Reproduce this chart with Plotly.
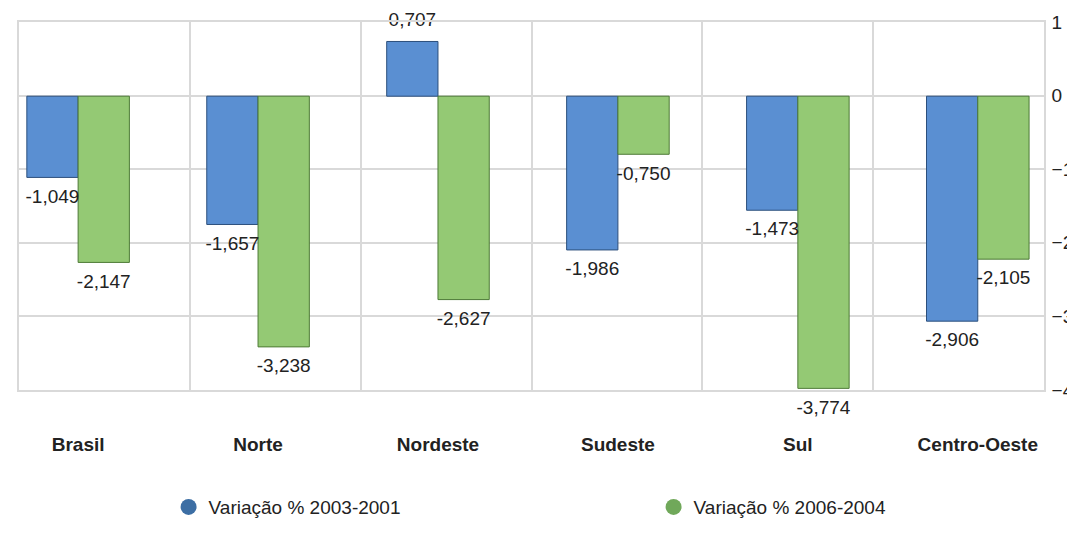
import plotly.graph_objects as go

categories = ["Brasil", "Norte", "Nordeste", "Sudeste", "Sul", "Centro-Oeste"]
var_2003_2001 = [-1.049, -1.657, 0.707, -1.986, -1.473, -2.906]
var_2006_2004 = [-2.147, -3.238, -2.627, -0.750, -3.774, -2.105]
series_names = ["Variação % 2003-2001", "Variação % 2006-2004"]
y_ticks = [1, 0, -1, -2, -3, -4]
grid_bounds = [0, 1, 2, 3, 4, 5, 6]

BLUE = "#5a8fd2"
BLUE_EDGE = "#2c4f7c"
GREEN = "#94c974"
GREEN_EDGE = "#4d7a36"
LEG_BLUE = "#3c6ea4"
LEG_GREEN = "#70a85a"
FONT = "Arial, Liberation Sans, sans-serif"
GRID = "#d9d9d9"

fig = go.Figure()

series = [
    (var_2003_2001, series_names[0], BLUE, BLUE_EDGE, "s1"),
    (var_2006_2004, series_names[1], GREEN, GREEN_EDGE, "s2"),
]
for vals, name, col, edge, grp in series:
    fig.add_trace(go.Bar(
        x=categories, y=vals, name=name, offsetgroup=grp,
        marker=dict(color=col, line=dict(color=edge, width=1)),
        showlegend=False, hoverinfo="skip",
        xaxis="x2", yaxis="y2",
    ))
for vals, name, col, edge, grp in series:
    fig.add_trace(go.Scatter(
        x=categories, y=vals, name=name, offsetgroup=grp,
        mode="markers+text",
        marker=dict(size=16, opacity=0, color=col),
        texttemplate="%{y:.3f}",
        textposition=["top center" if v >= 0 else "bottom center" for v in vals],
        textfont=dict(family=FONT, size=19, color="#222222"),
        cliponaxis=False, showlegend=False,
        xaxis="x2", yaxis="y2",
    ))

# legend entries (circles)
for name, col in [(series_names[0], LEG_BLUE), (series_names[1], LEG_GREEN)]:
    fig.add_trace(go.Scatter(
        x=[None], y=[None], mode="markers", name=name,
        marker=dict(symbol="circle", size=17, color=col),
        xaxis="x", yaxis="y",
    ))

fig.update_layout(
    width=1067, height=540,
    margin=dict(l=19, r=23, t=22, b=150, autoexpand=False),
    paper_bgcolor="white", plot_bgcolor="white",
    separators=",.",
    barmode="group", bargap=0.43, bargroupgap=0,
    scattermode="group", scattergap=0.43,
    font=dict(family=FONT, size=19, color="#222222"),
    xaxis=dict(
        range=[0, 6], tickvals=grid_bounds, showticklabels=False,
        showgrid=True, gridcolor=GRID, gridwidth=1.5, zeroline=False,
        showline=True, linecolor=GRID, linewidth=1.5, mirror=True,
        automargin=False,
    ),
    yaxis=dict(
        range=[-4, 1], tickvals=y_ticks, side="right",
        showgrid=True, gridcolor=GRID, gridwidth=1.5, zeroline=False,
        showline=True, linecolor=GRID, linewidth=1.5, mirror=True,
        tickfont=dict(family=FONT, size=19, color="#222222"),
        ticklabelstandoff=2, automargin=False,
    ),
    xaxis2=dict(
        overlaying="x", range=[-0.3285, 5.368],
        categoryorder="array", categoryarray=categories,
        showgrid=False, zeroline=False, showline=False,
        tickfont=dict(family=FONT, size=19, color="#222222", weight="bold"),
        ticklabelstandoff=41, side="bottom", automargin=False,
    ),
    yaxis2=dict(
        overlaying="y", range=[-3.795, 0.9585],
        showgrid=False, zeroline=False, showticklabels=False, showline=False,
        automargin=False,
    ),
    legend=dict(
        orientation="h", xref="container", yref="container",
        x=0.158, y=0.061, xanchor="left", yanchor="middle",
        entrywidth=440, font=dict(family=FONT, size=19, color="#222222"),
        bgcolor="rgba(0,0,0,0)",
    ),
)

fig.write_html(
    "out.html",
    config={"displayModeBar": False},
    post_script="document.body.style.margin='0';document.body.style.overflow='hidden';",
)
